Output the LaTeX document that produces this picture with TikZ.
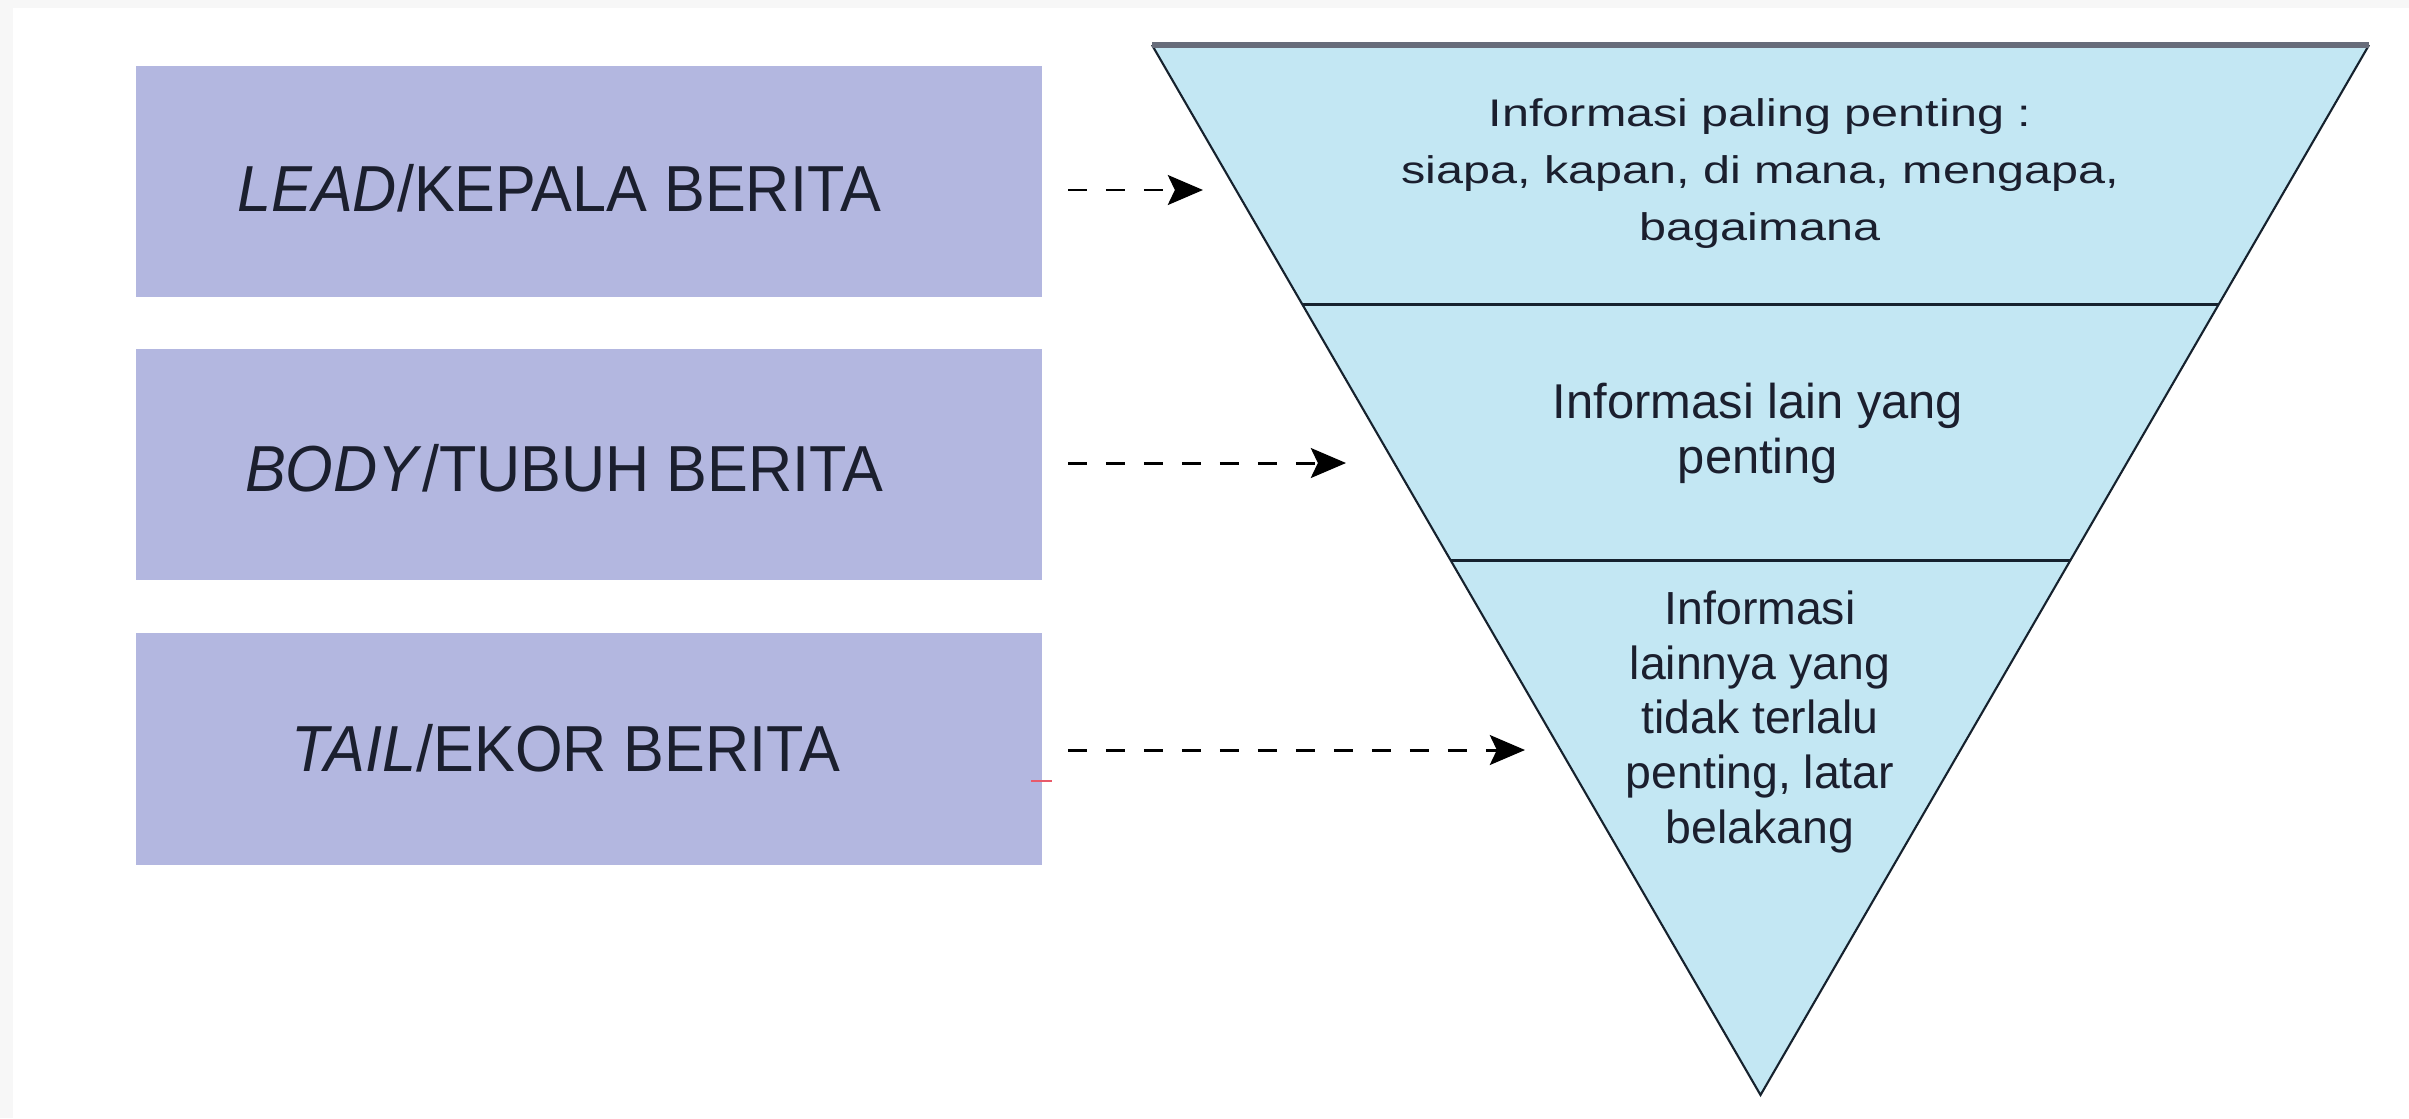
\documentclass[tikz,border=0pt]{standalone}
\usepackage{fontspec}
\setmainfont{Liberation Sans}
\newfontfamily\boxfont[FakeStretch=0.94]{Liberation Sans}
\newfontfamily\topfont[FakeStretch=1.26]{Liberation Sans}
\usetikzlibrary{arrows.meta,calc}
\definecolor{bggray}{HTML}{F7F7F7}
\definecolor{boxfill}{HTML}{B3B7E0}
\definecolor{trifill}{HTML}{C3E7F3}
\definecolor{inktext}{HTML}{1B1F2E}
\definecolor{inkline}{HTML}{16222E}
\definecolor{topgray}{HTML}{676C7A}
\definecolor{redmark}{HTML}{E85A6A}
\tikzset{
  newsbox/.style={rectangle, fill=boxfill, draw=none, inner sep=0pt,
    minimum width=9.06cm, minimum height=2.31cm},
  boxtext/.style={anchor=base, inner sep=0pt, text=inktext,
    font=\boxfont\fontsize{18.5pt}{22pt}\selectfont},
  tritext/.style={anchor=base, inner sep=0pt, text=inktext, align=center},
  sideline/.style={draw=inkline, line width=0.6pt, line join=miter},
  topline/.style={draw=topgray, line width=1.7pt},
  divider/.style={draw=inkline, line width=0.85pt},
  dasharrow/.style={draw=black, line width=0.85pt, dash pattern=on 5.4pt off 5.4pt,
    -{Stealth[length=10pt,width=8.5pt,inset=2pt]}},
  redtick/.style={draw=redmark, line width=0.6pt}
}
\begin{document}
\begin{tikzpicture}[x=0.01cm,y=-0.01cm]
\useasboundingbox (0,0) rectangle (2409,1118);
\fill[bggray] (0,0) rectangle (2409,1118);
\fill[white] (13,8) rectangle (2409,1118);

% left boxes
\node[newsbox] (lead) at (589,181.5) {};
\node[newsbox] (body) at (589,464.5) {};
\node[newsbox] (tail) at (589,749) {};
\node[boxtext] (leadtxt) at (559,211) {\textit{LEAD}/KEPALA BERITA};
\node[boxtext] (bodytxt) at (564,491) {\textit{BODY}/TUBUH BERITA};
\node[boxtext] (tailtxt) at (566,771) {\textit{TAIL}/EKOR BERITA};

% inverted triangle
\coordinate (tl) at (1152,45);
\coordinate (tr) at (2369,45);
\coordinate (ap) at (1760.5,1095);
\fill[trifill] (tl) -- (tr) -- (ap) -- cycle;
\draw[sideline] (tr) -- (ap) -- (tl);
\draw[topline] (tl) -- (tr);
\coordinate (d1l) at ($(tl)!0.2467!(ap)$);
\coordinate (d1r) at ($(tr)!0.2467!(ap)$);
\coordinate (d2l) at ($(tl)!0.4914!(ap)$);
\coordinate (d2r) at ($(tr)!0.4914!(ap)$);
\draw[divider] (d1l) -- (d1r);
\draw[divider] (d2l) -- (d2r);

% triangle texts (base anchor = baseline of last line)
\node[tritext, font=\topfont\fontsize{10.95pt}{16.2pt}\selectfont] (toptxt) at (1760,240)
  {Informasi paling penting :\\siapa, kapan, di mana, mengapa,\\bagaimana};
\node[tritext, font=\fontsize{13.9pt}{15.6pt}\selectfont] (midtxt) at (1758,473)
  {Informasi lain yang\\penting};
\node[tritext, font=\fontsize{13.2pt}{15.5pt}\selectfont] (lowtxt) at (1760,843)
  {Informasi\\lainnya yang\\tidak terlalu\\penting, latar\\belakang};

% arrows
\coordinate (s1) at (1068,190);
\coordinate (e1) at (1203,190);
\coordinate (s2) at (1068,463);
\coordinate (e2) at (1346,463);
\coordinate (s3) at (1068,750);
\coordinate (e3) at (1525,750);
\draw[dasharrow] (s1) -- (e1);
\draw[dasharrow] (s2) -- (e2);
\draw[dasharrow] (s3) -- (e3);

% small red tick
\coordinate (r1) at (1031,781);
\coordinate (r2) at (1052,781);
\draw[redtick] (r1) -- (r2);
\end{tikzpicture}
\end{document}
